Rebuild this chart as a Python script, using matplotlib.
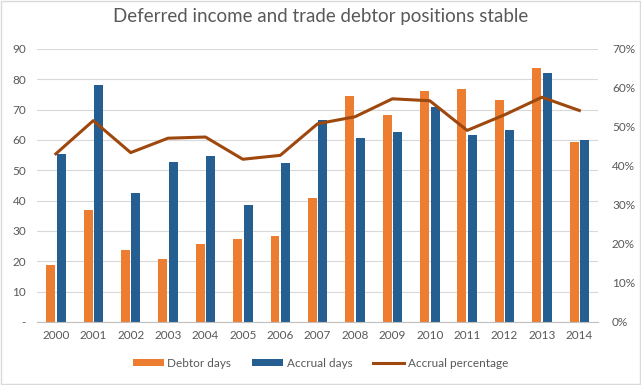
import matplotlib.pyplot as plt
import numpy as np
from matplotlib.ticker import FuncFormatter, MultipleLocator
from matplotlib.patches import Rectangle

plt.rcParams['font.family'] = ['Lato', 'DejaVu Sans']

years = ['2000', '2001', '2002', '2003', '2004', '2005', '2006', '2007',
         '2008', '2009', '2010', '2011', '2012', '2013', '2014']
debtor_days = [18.7, 36.8, 23.6, 20.7, 25.6, 27.3, 28.3, 40.8,
               74.5, 68.2, 76.2, 76.8, 73.2, 83.7, 59.3]
accrual_days = [55.3, 78.1, 42.4, 52.6, 54.7, 38.5, 52.3, 66.5,
                60.7, 62.6, 70.9, 61.7, 63.3, 82.1, 60.0]
accrual_pct = [43.1, 51.6, 43.4, 47.1, 47.4, 41.7, 42.7, 50.8,
               52.6, 57.2, 56.7, 49.1, 53.1, 57.6, 54.2]

orange = '#ED7D31'
blue = '#255E91'
brown = '#9E480E'
txt = '#595959'

fig = plt.figure(figsize=(6.41, 3.85), dpi=100)
ax = fig.add_axes([0.058, 0.164, 0.875, 0.709])
x = np.arange(len(years))
w = 0.24
ax.bar(x - 0.14, debtor_days, w, color=orange, label='Debtor days', zorder=2)
ax.bar(x + 0.14, accrual_days, w, color=blue, label='Accrual days', zorder=2)
ax.set_ylim(0, 90)
ax.set_xlim(-0.5, len(years) - 0.5)
ax.yaxis.set_major_locator(MultipleLocator(10))
ax.yaxis.set_major_formatter(FuncFormatter(lambda v, p: '-' if v == 0 else '%d' % v))
ax.set_xticks(x)
ax.set_xticklabels(years)
ax.grid(axis='y', color='#D9D9D9', linewidth=0.8, zorder=0)
for s in ['top', 'right', 'left']:
    ax.spines[s].set_visible(False)
ax.spines['bottom'].set_color('#BFBFBF')
ax.tick_params(axis='both', length=0, colors=txt, labelsize=8.5)
ax.tick_params(axis='x', pad=6)
ax.tick_params(axis='y', pad=8)

ax2 = ax.twinx()
ax2.plot(x, accrual_pct, color=brown, linewidth=2.2, label='Accrual percentage', zorder=3)
ax2.set_ylim(0, 70)
ax2.yaxis.set_major_locator(MultipleLocator(10))
ax2.yaxis.set_major_formatter(FuncFormatter(lambda v, p: '%d%%' % v))
for s in ax2.spines.values():
    s.set_visible(False)
ax2.tick_params(axis='y', length=0, colors=txt, labelsize=8.5, pad=10)

h1, l1 = ax.get_legend_handles_labels()
h2, l2 = ax2.get_legend_handles_labels()
fig.legend(h1 + h2, l1 + l2, loc='center', bbox_to_anchor=(0.5, 0.057), ncol=3,
           frameon=False, fontsize=8.5, labelcolor=txt, handlelength=2.6,
           handleheight=0.5, handletextpad=0.3, columnspacing=1.8)

fig.text(0.5, 0.958, 'Deferred income and trade debtor positions stable',
         ha='center', va='center', fontsize=13.5, color=txt)
fig.patches.append(Rectangle((0.001, 0.002), 0.997, 0.995, transform=fig.transFigure,
                             fill=False, edgecolor='#D9D9D9', linewidth=1))

fig.savefig('out.png', dpi=100)
